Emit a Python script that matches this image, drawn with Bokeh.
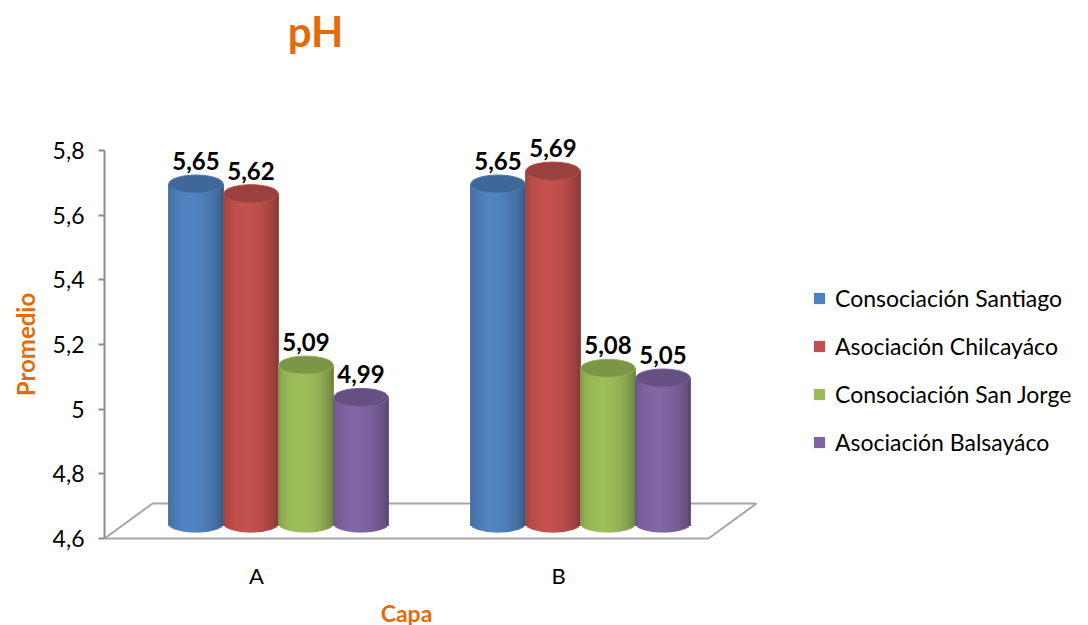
import math
from bokeh.plotting import figure
from bokeh.models import (Range1d, FixedTicker, CustomJSTickFormatter, Label,
                          Legend, LegendItem, ColumnDataSource)
from bokeh.embed import file_html
from bokeh.resources import INLINE
from bokeh.core.properties import value

# ---------------- data ----------------
categories = ["A", "B"]
series_names = ["Consociación Santiago", "Asociación Chilcayáco",
                "Consociación San Jorge", "Asociación Balsayáco"]
santiago = [5.65, 5.65]
chilcayaco = [5.62, 5.69]
san_jorge = [5.09, 5.08]
balsayaco = [4.99, 5.05]
y_ticks = [4.6, 4.8, 5.0, 5.2, 5.4, 5.6, 5.8]
series_values = [santiago, chilcayaco, san_jorge, balsayaco]
colors = ["#4F81BD", "#C0504D", "#9BBB59", "#8064A2"]

# ---------------- layout ----------------
W, H = 1088, 625
AXIS_X = 104                               # pixel of y axis line
AXIS_Y0 = 538                              # pixel of y = 4.6
PXY = 388 / 1.2                            # px per y unit
PXX = 302.0                                # px per category
Y_BASE = y_ticks[0]
x_start = 1 - 256 / PXX
x_end = x_start + W / PXX
y_start = Y_BASE - (H - AXIS_Y0) / PXY
y_end = y_start + H / PXY

def xd(px):
    return x_start + px / PXX

def yd(py):
    return y_start + (H - py) / PXY

ORANGE = "#E36C09"
FONT = "Lato"

p = figure(width=W, height=H, x_range=Range1d(x_start, x_end),
           y_range=Range1d(y_start, y_end),
           min_border=0, output_backend="svg", toolbar_location=None)
p.outline_line_color = None
p.xgrid.visible = False
p.ygrid.visible = False
p.background_fill_color = "white"
p.border_fill_color = "white"

# 3D offset of the bars relative to the axes
p.extra_x_ranges = {"bars": Range1d(x_start - 22 / PXX, x_end - 22 / PXX)}
p.extra_y_ranges = {"bars": Range1d(y_start - 15 / PXY, y_end - 15 / PXY)}

# ---------------- floor ----------------
depth_x, depth_y = 48 / PXX, 35 / PXY
front_w = 604 / PXX
x0 = xd(AXIS_X)
fx = [x0, x0 + depth_x, x0 + depth_x + front_w, x0 + front_w, x0]
fy = [Y_BASE, Y_BASE + depth_y, Y_BASE + depth_y, Y_BASE, Y_BASE]
p.line(fx, fy, line_color="#A6A6A6", line_width=2)

# ---------------- cylinders ----------------
bar_w = 55 / PXX
ell_h = 18 / PXY
offsets = [-1.5, -0.5, 0.5, 1.5]
N = 26

def shade(hexc, f):
    r, g, b = int(hexc[1:3], 16), int(hexc[3:5], 16), int(hexc[5:7], 16)
    c = [max(0, min(255, int(round(v * f)))) for v in (r, g, b)]
    return "#%02x%02x%02x" % tuple(c)

def profile(t):
    return 0.78 + 0.30 * (math.sin(math.pi * t) ** 0.5) - 0.14 * t

legend_renderers = []
for s, vals in enumerate(series_values):
    col = colors[s]
    cx_list = [(j + 1) + offsets[s] * bar_w for j in range(len(vals))]

    # plain (hidden) bar renderer used as the legend swatch
    r = p.vbar(x=cx_list, top=vals, bottom=Y_BASE, width=bar_w,
               fill_color=col, line_color=None,
               x_range_name="bars", y_range_name="bars")
    r.visible = False
    legend_renderers.append(r)

    xs, tops, bots, ws, cs = [], [], [], [], []
    for cx, v in zip(cx_list, vals):
        for i in range(N):
            t = (i + 0.5) / N
            u = 2 * t - 1
            xs.append(cx + u * bar_w / 2)
            ws.append(bar_w / N + 0.8 / PXX)
            tops.append(v)
            bots.append(Y_BASE - ell_h / 2 * math.sqrt(max(0.0, 1 - u * u)))
            cs.append(shade(col, profile(t)))
    src = ColumnDataSource(dict(x=xs, top=tops, bottom=bots, w=ws, c=cs))
    p.vbar(x="x", top="top", bottom="bottom", width="w", source=src,
           fill_color="c", line_color=None,
           x_range_name="bars", y_range_name="bars")
    p.ellipse(x=cx_list, y=vals, width=bar_w * 0.99, height=ell_h,
              fill_color=shade(col, 0.80), line_color=shade(col, 0.95), line_width=1,
              x_range_name="bars", y_range_name="bars")
    labels = [("%.2f" % v).replace(".", ",") for v in vals]
    p.text(x=cx_list, y=vals, text=labels, text_align="center",
           text_baseline="bottom", y_offset=-(ell_h * PXY / 2 + 5),
           text_font=value(FONT), text_font_style="bold",
           text_font_size="24px", text_color="#000000",
           x_range_name="bars", y_range_name="bars")

# ---------------- axes ----------------
yax = p.yaxis[0]
yax.fixed_location = xd(AXIS_X)
yax.ticker = FixedTicker(ticks=y_ticks)
yax.bounds = (y_ticks[0], y_ticks[-1])
yax.formatter = CustomJSTickFormatter(
    code="return (Math.round(tick*10)/10).toString().replace('.', ',');")
yax.axis_line_color = "#8C8C8C"
yax.axis_line_width = 2
yax.major_tick_line_color = "#8C8C8C"
yax.major_tick_line_width = 2
yax.major_tick_out = 6
yax.major_tick_in = 0
yax.minor_tick_line_color = None
yax.major_label_standoff = 14
yax.major_label_text_font = FONT
yax.major_label_text_font_size = "23px"
yax.major_label_text_color = "#000000"
yax.axis_label = "Promedio"
yax.axis_label_text_font = FONT
yax.axis_label_text_font_style = "bold"
yax.axis_label_text_font_size = "24px"
yax.axis_label_text_color = ORANGE
yax.axis_label_standoff = 10

p.xaxis.visible = False
p.text(x=[1, 2], y=[Y_BASE, Y_BASE], text=categories, text_align="center",
       text_baseline="middle", y_offset=37, text_font=value(FONT),
       text_font_size="22px", text_color="#000000")

# ---------------- titles ----------------
p.add_layout(Label(x=xd(315), y=yd(30), text="pH", text_align="center",
                   text_baseline="middle", text_font=FONT, text_font_style="bold",
                   text_font_size="42px", text_color=ORANGE))
p.add_layout(Label(x=xd(406), y=yd(612), text="Capa", text_align="center",
                   text_baseline="middle", text_font=FONT, text_font_style="bold",
                   text_font_size="23px", text_color=ORANGE))

# ---------------- legend ----------------
items = [LegendItem(label=name, renderers=[r])
         for name, r in zip(series_names, legend_renderers)]
legend = Legend(items=items, location=(812, 169), padding=0, margin=0,
                border_line_alpha=0, background_fill_alpha=0,
                inactive_fill_alpha=0, click_policy="none",
                glyph_width=14, glyph_height=14, label_standoff=9,
                label_text_font=FONT, label_text_font_size="23px",
                label_text_color="#000000",
                label_height=28, spacing=20)
p.add_layout(legend)

open("out.html", "w").write(file_html(p, INLINE))
